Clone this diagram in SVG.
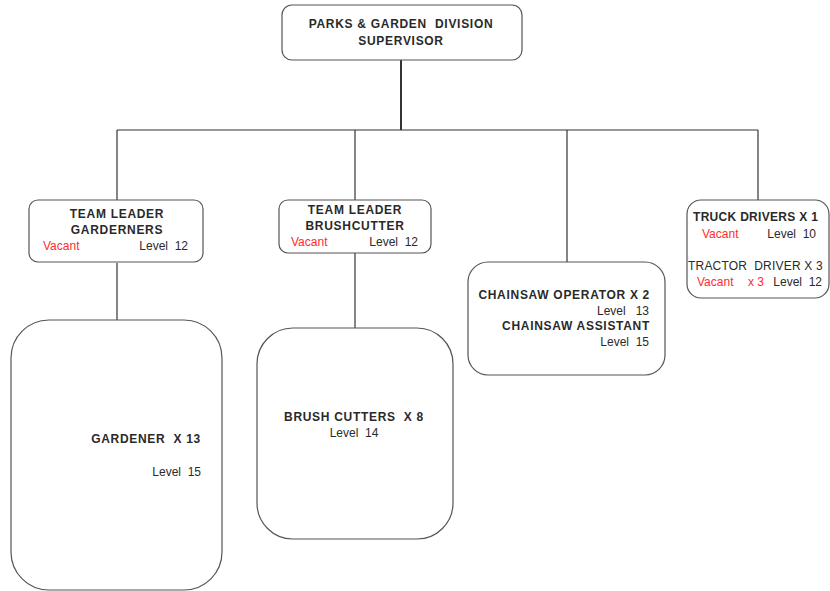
<svg xmlns="http://www.w3.org/2000/svg" width="830" height="591" viewBox="0 0 830 591" xml:space="preserve">
<style>
.box{fill:#fff;stroke:#555;stroke-width:1.2}
.t{font-family:"Liberation Sans",Arial,sans-serif;font-size:12px;fill:#2a2a2a;white-space:pre}
.b{font-weight:bold;letter-spacing:0.7px}
.r{fill:#ff2b2b}
.c{stroke:#333;stroke-width:1.2;fill:none}
</style>
<rect width="830" height="591" fill="#fff"/>
<g id="connectors">
<line class="c" x1="401" y1="60" x2="401" y2="130" style="stroke-width:2"/>
<line class="c" x1="117" y1="130" x2="758" y2="130"/>
<line class="c" x1="117" y1="130" x2="117" y2="200"/>
<line class="c" x1="355" y1="130" x2="355" y2="200"/>
<line class="c" x1="567" y1="130" x2="567" y2="262"/>
<line class="c" x1="758" y1="130" x2="758" y2="200"/>
<line class="c" x1="117" y1="263" x2="117" y2="320"/>
<line class="c" x1="355" y1="253" x2="355" y2="328"/>
</g>
<g id="supervisor">
<rect class="box" x="282" y="5" width="240" height="55" rx="10"/>
<text class="t b" x="401" y="28" text-anchor="middle">PARKS &amp; GARDEN  DIVISION</text>
<text class="t b" x="401" y="45" text-anchor="middle">SUPERVISOR</text>
</g>
<g id="tl-gardeners">
<rect class="box" x="29" y="200" width="174" height="62" rx="9"/>
<text class="t b" x="117" y="218" text-anchor="middle">TEAM LEADER</text>
<text class="t b" x="117" y="234" text-anchor="middle">GARDERNERS</text>
<text class="t r" x="43" y="250">Vacant</text>
<text class="t" x="188" y="250" text-anchor="end">Level  12</text>
</g>
<g id="tl-brushcutter">
<rect class="box" x="279" y="200" width="152" height="53" rx="9"/>
<text class="t b" x="355" y="214" text-anchor="middle">TEAM LEADER</text>
<text class="t b" x="355" y="230" text-anchor="middle">BRUSHCUTTER</text>
<text class="t r" x="291" y="246">Vacant</text>
<text class="t" x="418" y="246" text-anchor="end">Level  12</text>
</g>
<g id="chainsaw">
<rect class="box" x="468" y="262" width="197" height="113" rx="20"/>
<text class="t b" x="650" y="299" text-anchor="end">CHAINSAW OPERATOR X 2</text>
<text class="t" x="649" y="315" text-anchor="end">Level   13</text>
<text class="t b" x="650" y="330" text-anchor="end">CHAINSAW ASSISTANT</text>
<text class="t" x="649" y="346" text-anchor="end">Level  15</text>
</g>
<g id="drivers">
<rect class="box" x="687" y="200" width="142" height="98" rx="14"/>
<text class="t b" x="693" y="221" style="letter-spacing:0.3px">TRUCK DRIVERS X 1</text>
<text class="t r" x="702" y="238">Vacant</text>
<text class="t" x="816" y="238" text-anchor="end">Level  10</text>
<text class="t" x="688" y="270" style="letter-spacing:0.2px">TRACTOR  DRIVER X 3</text>
<text class="t r" x="697" y="286">Vacant</text>
<text class="t r" x="748" y="286">x 3</text>
<text class="t" x="822" y="286" text-anchor="end">Level  12</text>
</g>
<g id="gardener">
<rect class="box" x="11" y="320" width="211" height="270" rx="38"/>
<text class="t b" x="201" y="443" text-anchor="end">GARDENER  X 13</text>
<text class="t" x="201" y="476" text-anchor="end">Level  15</text>
</g>
<g id="brush-cutters">
<rect class="box" x="257" y="328" width="196" height="211" rx="36"/>
<text class="t b" x="354" y="421" text-anchor="middle">BRUSH CUTTERS  X 8</text>
<text class="t" x="354" y="437" text-anchor="middle">Level  14</text>
</g>
</svg>
